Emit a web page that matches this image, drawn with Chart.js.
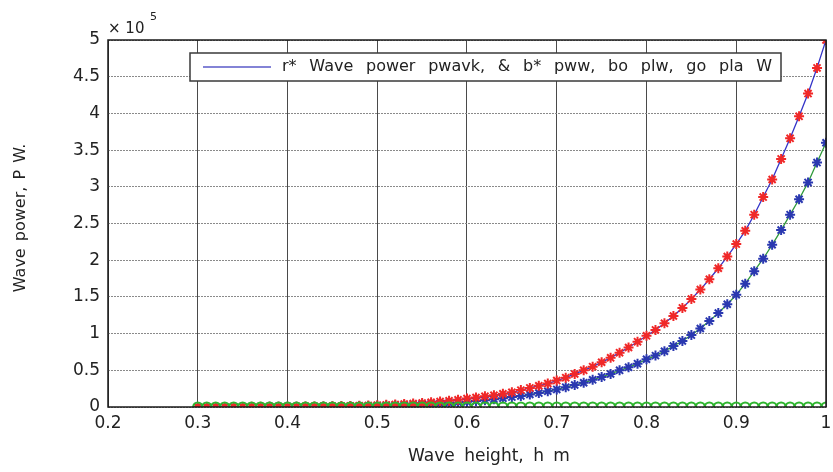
<!DOCTYPE html>
<html>
<head>
<meta charset="utf-8">
<script src="https://cdn.jsdelivr.net/npm/chart.js@4.4.1/dist/chart.umd.min.js"></script>
<style>
  html, body { margin: 0; padding: 0; background: #fff; }
  #wrap { width: 833px; height: 472px; }
</style>
</head>
<body>
<div id="wrap"><canvas id="waveChart" width="833" height="472"></canvas></div>
<script>
// wave height h (m)
const heights = [
  0.30, 0.31, 0.32, 0.33, 0.34, 0.35, 0.36, 0.37, 0.38, 0.39,
  0.40, 0.41, 0.42, 0.43, 0.44, 0.45, 0.46, 0.47, 0.48, 0.49,
  0.50, 0.51, 0.52, 0.53, 0.54, 0.55, 0.56, 0.57, 0.58, 0.59,
  0.60, 0.61, 0.62, 0.63, 0.64, 0.65, 0.66, 0.67, 0.68, 0.69,
  0.70, 0.71, 0.72, 0.73, 0.74, 0.75, 0.76, 0.77, 0.78, 0.79,
  0.80, 0.81, 0.82, 0.83, 0.84, 0.85, 0.86, 0.87, 0.88, 0.89,
  0.90, 0.91, 0.92, 0.93, 0.94, 0.95, 0.96, 0.97, 0.98, 0.99,
  1.00
];

// power in units of 10^5 W
const redPower = [
  0.0005, 0.0005, 0.001, 0.001, 0.001, 0.001, 0.002, 0.002, 0.003, 0.003,
  0.004, 0.005, 0.006, 0.007, 0.008, 0.010, 0.012, 0.015, 0.018, 0.021,
  0.025, 0.029, 0.034, 0.040, 0.047, 0.055, 0.064, 0.074, 0.085, 0.098,
  0.115, 0.13, 0.145, 0.16, 0.18, 0.20, 0.23, 0.26, 0.29, 0.32,
  0.36, 0.40, 0.45, 0.50, 0.55, 0.61, 0.67, 0.74, 0.81, 0.89,
  0.97, 1.05, 1.14, 1.24, 1.35, 1.47, 1.60, 1.74, 1.89, 2.05,
  2.22, 2.40, 2.62, 2.86, 3.10, 3.38, 3.66, 3.96, 4.27, 4.62,
  5.00
];

const bluePower = [
  0.0003, 0.0005, 0.0005, 0.0005, 0.001, 0.001, 0.001, 0.001, 0.002, 0.002,
  0.003, 0.003, 0.004, 0.005, 0.006, 0.007, 0.008, 0.010, 0.012, 0.014,
  0.017, 0.020, 0.023, 0.027, 0.031, 0.036, 0.042, 0.048, 0.055, 0.063,
  0.072, 0.082, 0.093, 0.105, 0.12, 0.135, 0.15, 0.17, 0.19, 0.215,
  0.24, 0.27, 0.30, 0.33, 0.37, 0.41, 0.45, 0.50, 0.54, 0.59,
  0.65, 0.70, 0.76, 0.83, 0.90, 0.98, 1.07, 1.17, 1.28, 1.40,
  1.53, 1.68, 1.85, 2.02, 2.21, 2.41, 2.62, 2.83, 3.06, 3.33,
  3.60
];

const greenPower = [
  0, 0, 0, 0, 0, 0, 0, 0, 0, 0,
  0, 0, 0, 0, 0, 0, 0, 0, 0, 0,
  0, 0, 0, 0, 0, 0, 0, 0, 0, 0,
  0, 0, 0, 0, 0, 0, 0, 0, 0, 0,
  0, 0, 0, 0, 0, 0, 0, 0, 0, 0,
  0, 0, 0, 0, 0, 0, 0, 0, 0, 0,
  0, 0, 0, 0, 0, 0, 0, 0, 0, 0,
  0
];

const legendText = 'r* Wave power pwavk, & b* pww, bo plw, go pla W';
const xTitle = 'Wave height, h m';
const yTitle = 'Wave power, P W.';

function pts(vals) {
  return heights.map((h, i) => ({ x: h, y: vals[i] }));
}

// frame, legend box, exponent and axis titles, drawn like the matlab figure
const figureExtras = {
  id: 'figureExtras',
  afterDraw(chart) {
    const ctx = chart.ctx;
    const a = chart.chartArea;
    ctx.save();

    // box round the axes
    ctx.strokeStyle = '#1a1a1a';
    ctx.lineWidth = 1.5;
    ctx.strokeRect(a.left, a.top, a.right - a.left, a.bottom - a.top);

    // x 10^5
    ctx.fillStyle = '#222';
    ctx.font = '15px "DejaVu Sans"';
    ctx.textBaseline = 'alphabetic';
    ctx.textAlign = 'left';
    ctx.fillText('\u00d7 10', 108, 33);
    ctx.font = '11px "DejaVu Sans"';
    ctx.fillText('5', 150, 20);

    // legend
    ctx.fillStyle = '#fff';
    ctx.fillRect(190, 53, 591, 28);
    ctx.strokeStyle = '#3a3a3a';
    ctx.lineWidth = 1.5;
    ctx.strokeRect(190, 53, 591, 28);
    ctx.strokeStyle = '#5a5ac8';
    ctx.lineWidth = 1.5;
    ctx.beginPath();
    ctx.moveTo(203, 67);
    ctx.lineTo(271, 67);
    ctx.stroke();
    ctx.fillStyle = '#222';
    ctx.font = '16px "DejaVu Sans"';
    ctx.textBaseline = 'middle';
    const spaces = legendText.split(' ').length - 1;
    const w0 = ctx.measureText(legendText).width;
    ctx.wordSpacing = Math.max(0, (490 - w0) / spaces) + 'px';
    ctx.fillText(legendText, 282, 67);
    ctx.wordSpacing = '0px';

    // axis titles
    ctx.font = '17px "DejaVu Sans"';
    ctx.textAlign = 'center';
    ctx.wordSpacing = '4px';
    ctx.fillText(xTitle, 489, 457);
    ctx.translate(21, 218);
    ctx.rotate(-Math.PI / 2);
    ctx.font = '16px "DejaVu Sans"';
    ctx.wordSpacing = '2px';
    ctx.fillText(yTitle, 0, 0);
    ctx.restore();
  }
};

const ctx = document.getElementById('waveChart').getContext('2d');
new Chart(ctx, {
  type: 'scatter',
  data: {
    datasets: [
      {
        label: 'go pla',
        data: pts(greenPower),
        showLine: false,
        pointStyle: 'circle',
        pointRadius: 4.5,
        pointBorderWidth: 2.2,
        pointBorderColor: '#2fb52f',
        pointBackgroundColor: 'rgba(0,0,0,0)'
      },
      {
        label: 'r* pwavk',
        data: pts(redPower),
        showLine: true,
        borderColor: '#3434c8',
        borderWidth: 1.3,
        pointStyle: 'star',
        pointRadius: 5,
        pointBorderWidth: 2,
        pointBorderColor: '#f02828',
        pointBackgroundColor: '#f02828'
      },
      {
        label: 'b* pww',
        data: pts(bluePower),
        showLine: true,
        borderColor: '#2f9a3a',
        borderWidth: 1.3,
        pointStyle: 'star',
        pointRadius: 5,
        pointBorderWidth: 2,
        pointBorderColor: '#2a38b0',
        pointBackgroundColor: '#2a38b0'
      }
    ]
  },
  options: {
    responsive: false,
    animation: false,
    layout: { padding: { top: 40, right: 1, left: 0, bottom: 0 } },
    plugins: {
      legend: { display: false },
      tooltip: { enabled: false }
    },
    scales: {
      x: {
        type: 'linear',
        min: 0.2,
        max: 1,
        afterFit: s => { s.height = 65; s.paddingRight = 0; s.paddingLeft = 0; },
        ticks: {
          stepSize: 0.1,
          padding: 6,
          color: '#222',
          font: { family: 'DejaVu Sans', size: 17 },
          callback: v => String(Number(v.toFixed(1)))
        },
        grid: { color: '#4a4a4a', lineWidth: 1, drawTicks: false },
        border: { display: false }
      },
      y: {
        type: 'linear',
        min: 0,
        max: 5,
        afterFit: s => { s.width = 108; s.paddingTop = 0; s.paddingBottom = 0; },
        ticks: {
          stepSize: 0.5,
          padding: 8,
          color: '#222',
          font: { family: 'DejaVu Sans', size: 17 },
          callback: v => String(Number(v.toFixed(1)))
        },
        grid: { color: '#8a8a8a', lineWidth: 1, drawTicks: false },
        border: { display: false, dash: [2, 1] }
      }
    }
  },
  plugins: [figureExtras]
});
</script>
</body>
</html>
